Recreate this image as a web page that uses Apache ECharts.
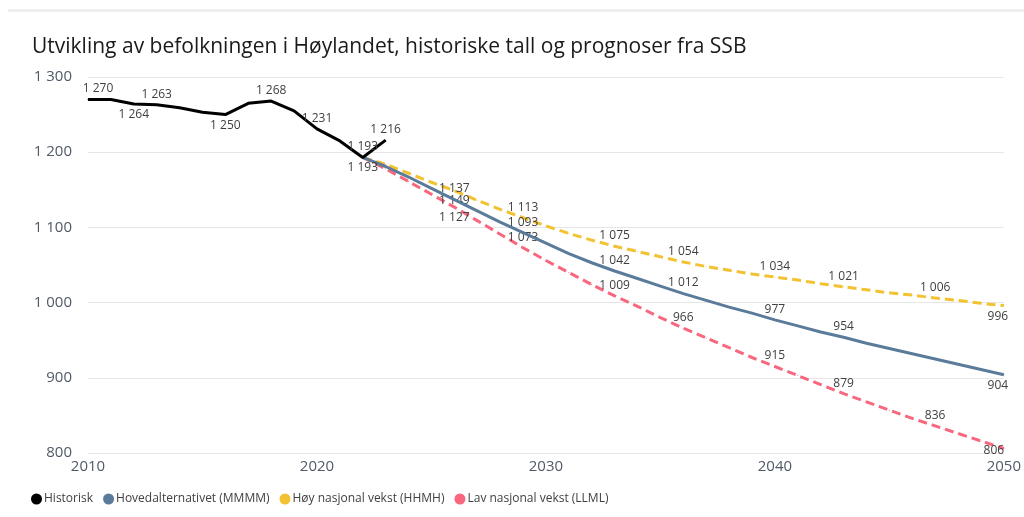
<!DOCTYPE html>
<html><head><meta charset="utf-8">
<script src="https://cdn.jsdelivr.net/npm/echarts@6/dist/echarts.min.js"></script>
<style>html,body{margin:0;padding:0;background:#fff}#c{width:1024px;height:517px}</style>
</head><body><div id="c"></div>
<script>
// ---- data ----
const histYears = [2010,2011,2012,2013,2014,2015,2016,2017,2018,2019,2020,2021,2022,2023];
const histValues = [1270,1270,1264,1263,1259,1253,1250,1265,1268,1255,1231,1215,1193,1216];
const projYears = [2022,2023,2024,2025,2026,2027,2028,2029,2030,2031,2032,2033,2034,2035,2036,2037,2038,2039,2040,2041,2042,2043,2044,2045,2046,2047,2048,2049,2050];
const hovedValues = [1193,1181,1167,1152,1137,1122,1107,1093,1079,1065,1053,1042,1032,1022,1012,1003,994,986,977,969,961,954,946,939,932,925,918,911,904];
const hoyValues   = [1193,1184,1172,1160,1149,1136,1124,1113,1102,1092,1083,1075,1068,1061,1054,1048,1043,1038,1034,1030,1025,1021,1017,1013,1010,1006,1003,999,996];
const lavValues   = [1193,1178,1161,1144,1127,1109,1091,1073,1056,1040,1024,1009,995,980,966,953,940,927,915,903,891,879,868,857,846,836,826,816,806];
const seriesNames = ['Historisk','Hovedalternativet (MMMM)','Høy nasjonal vekst (HHMH)','Lav nasjonal vekst (LLML)'];
const yTicks = [800,900,1000,1100,1200,1300];
const xTicks = [2010,2020,2030,2040,2050];
const titleText = 'Utvikling av befolkningen i Høylandet, historiske tall og prognoser fra SSB';

// label placement (which years get a data label, and where)
const histLabels = {2010:'top',2012:'bottom',2013:'top',2016:'bottom',2018:'top',2020:'top',2022:'top',2023:'top'};
const hovedLabels = {2022:'bottom',2026:'top',2029:'top',2033:'top',2036:'top',2040:'top',2043:'top',2050:'bottom'};
const hoyLabels = {2026:'bottom',2029:'top',2033:'top',2036:'top',2040:'top',2043:'top',2047:'top',2050:'bottom'};
const lavLabels = {2026:'bottom',2029:'top',2033:'top',2036:'top',2040:'top',2043:'top',2047:'top',2050:'inside'};
const labelShift = { 2010: [10, 0], 2050: [-10, 0] };

const fmt = v => { const s = String(Math.round(v)); return s.length > 3 ? s.slice(0, s.length-3) + ' ' + s.slice(-3) : s; };
const FONT = 'Open Sans';
const build = (years, vals, labels) => years.map((y, i) => {
  const pos = labels[y];
  const item = { value: [y, vals[i]] };
  if (pos) {
    let off = labelShift[y] || [0, 0];
    if (pos === 'inside') off = [-10, 2];
    else if (y === 2050) off = [-6, 0];
    item.label = { show: true, position: pos, offset: off };
  }
  return item;
});
const lbl = { show: false, formatter: p => fmt(p.value[1]), fontFamily: FONT, fontSize: 12, color: '#404040', distance: 4 };

const colors = ['#000000', '#5b7b9a', '#f2c233', '#f8677e'];
const mk = (name, years, vals, labels, color, dashed, z) => ({
  type: 'line', name, z,
  data: build(years, vals, labels),
  symbol: 'circle', symbolSize: 1, showSymbol: true,
  itemStyle: { color },
  lineStyle: { width: 3, color, type: dashed ? [9, 5] : 'solid' },
  label: lbl
});

const chart = echarts.init(document.getElementById('c'), null, { renderer: 'canvas' });
chart.setOption({
  animation: false,
  color: colors,
  title: { text: titleText, left: 27, top: 32, textStyle: { fontFamily: FONT, fontSize: 21, fontWeight: 'normal', color: '#1a1a1a' } },
  legend: {
    left: 26, top: 488, icon: 'circle', itemWidth: 11, itemHeight: 11, itemGap: 10,
    data: seriesNames,
    textStyle: { fontFamily: FONT, fontSize: 12, color: '#404040', padding: [0, 0, 0, -3] }
  },
  grid: { left: 88, right: 20, top: 77, bottom: 64, containLabel: false },
  xAxis: {
    type: 'value', min: xTicks[0], max: xTicks[xTicks.length-1], interval: 10,
    axisLine: { show: false }, axisTick: { show: false }, splitLine: { show: false },
    axisLabel: { fontFamily: FONT, fontSize: 15, color: '#505a66', margin: 6, formatter: v => String(v) }
  },
  yAxis: {
    type: 'value', min: yTicks[0], max: yTicks[yTicks.length-1], interval: 100,
    axisLine: { show: false }, axisTick: { show: false },
    splitLine: { lineStyle: { color: '#e6e6e6', width: 1 } },
    axisLabel: { fontFamily: FONT, fontSize: 15, color: '#505a66', margin: 16, formatter: v => fmt(v) }
  },
  graphic: [{ type: 'rect', left: 8, top: 9, shape: { width: 1016, height: 3 }, style: { fill: '#eeeeee' }, silent: true }],
  series: [
    mk(seriesNames[0], histYears, histValues, histLabels, colors[0], false, 5),
    mk(seriesNames[1], projYears, hovedValues, hovedLabels, colors[1], false, 4),
    mk(seriesNames[2], projYears, hoyValues, hoyLabels, colors[2], true, 3),
    mk(seriesNames[3], projYears, lavValues, lavLabels, colors[3], true, 3)
  ]
});
</script></body></html>
